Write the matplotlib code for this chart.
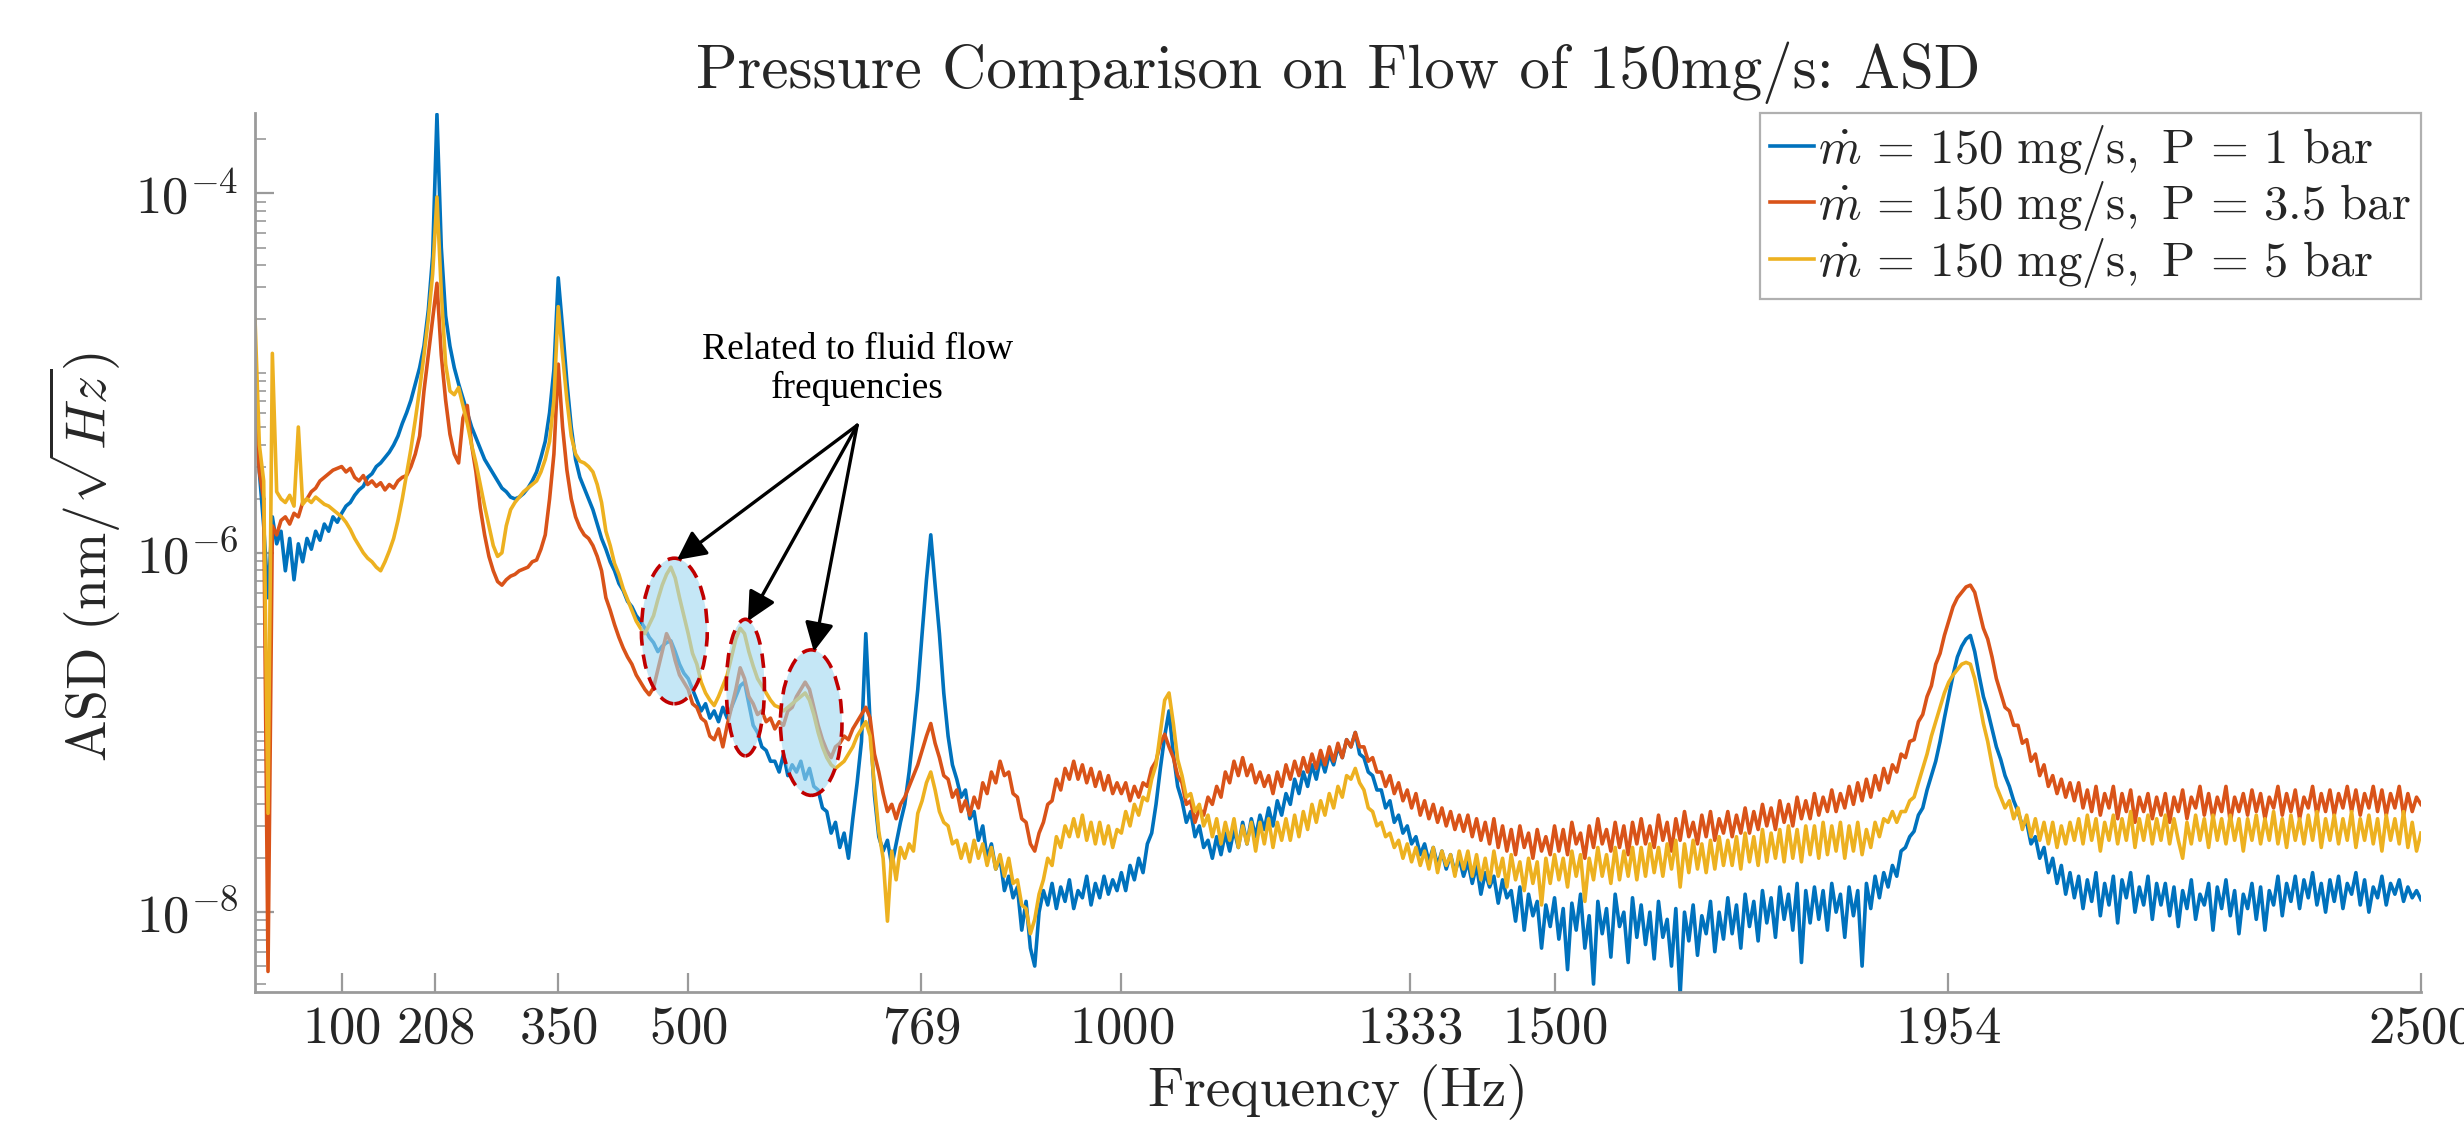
import numpy as np
import matplotlib
matplotlib.use('Agg')
import matplotlib.pyplot as plt
from matplotlib.patches import Ellipse
from matplotlib.ticker import LogLocator, NullFormatter

plt.rcParams['mathtext.fontset'] = 'cm'
plt.rcParams['font.family'] = ['DejaVu Serif']

# frequency grid (Hz), one value every 5 Hz
freq = np.arange(0, 2501, 5)

# log10 of ASD (nm/sqrt(Hz)), 20 values = 100 Hz per row
blue_log = [
    -5.10, -5.55, -5.85, -6.25, -5.80, -5.95, -5.88, -6.10, -5.92, -6.15, -5.95, -6.05, -5.92, -5.98, -5.88, -5.93, -5.84, -5.88, -5.80, -5.83,
    -5.78, -5.74, -5.72, -5.68, -5.65, -5.63, -5.58, -5.56, -5.52, -5.50, -5.47, -5.44, -5.40, -5.35, -5.28, -5.22, -5.15, -5.06, -4.97, -4.85,
    -4.65, -4.35, -3.56, -4.30, -4.68, -4.85, -4.97, -5.06, -5.14, -5.22, -5.30, -5.36, -5.42, -5.48, -5.52, -5.56, -5.60, -5.64, -5.66, -5.69,
    -5.70, -5.69, -5.67, -5.64, -5.60, -5.55, -5.47, -5.38, -5.22, -4.98, -4.47, -4.75, -5.05, -5.30, -5.48, -5.58, -5.64, -5.70, -5.76, -5.84,
    -5.92, -5.98, -6.05, -6.10, -6.17, -6.21, -6.27, -6.30, -6.35, -6.38, -6.42, -6.47, -6.50, -6.55, -6.52, -6.50, -6.49, -6.55, -6.62, -6.67,
    -6.70, -6.76, -6.82, -6.88, -6.84, -6.92, -6.88, -6.94, -6.86, -6.92, -6.86, -6.80, -6.74, -6.72, -6.84, -6.96, -7.00, -7.08, -7.10, -7.16,
    -7.16, -7.22, -7.12, -7.24, -7.18, -7.22, -7.16, -7.26, -7.20, -7.30, -7.32, -7.42, -7.44, -7.56, -7.50, -7.64, -7.56, -7.70, -7.48, -7.28,
    -7.05, -6.45, -6.95, -7.35, -7.58, -7.66, -7.60, -7.74, -7.62, -7.50, -7.40, -7.22, -7.00, -6.76, -6.45, -6.15, -5.90, -6.18, -6.45, -6.78,
    -7.02, -7.18, -7.26, -7.36, -7.32, -7.48, -7.44, -7.60, -7.52, -7.70, -7.62, -7.76, -7.70, -7.88, -7.80, -7.92, -7.86, -8.10, -7.94, -8.20,
    -8.30, -8.00, -7.88, -7.96, -7.84, -7.98, -7.86, -7.94, -7.82, -7.98, -7.88, -7.92, -7.80, -7.96, -7.84, -7.92, -7.80, -7.90, -7.82, -7.88,
    -7.78, -7.88, -7.74, -7.82, -7.70, -7.78, -7.62, -7.56, -7.40, -7.20, -7.02, -6.88, -7.12, -7.30, -7.38, -7.50, -7.44, -7.58, -7.52, -7.64,
    -7.60, -7.70, -7.58, -7.68, -7.56, -7.66, -7.54, -7.64, -7.50, -7.62, -7.48, -7.58, -7.46, -7.54, -7.42, -7.52, -7.38, -7.46, -7.34, -7.40,
    -7.26, -7.34, -7.22, -7.30, -7.18, -7.26, -7.14, -7.22, -7.12, -7.18, -7.08, -7.14, -7.04, -7.08, -7.00, -7.12, -7.14, -7.22, -7.24, -7.32,
    -7.32, -7.42, -7.38, -7.50, -7.46, -7.56, -7.52, -7.62, -7.58, -7.68, -7.62, -7.72, -7.64, -7.74, -7.66, -7.76, -7.68, -7.78, -7.70, -7.80,
    -7.72, -7.84, -7.74, -7.90, -7.78, -7.86, -7.80, -7.95, -7.82, -7.92, -7.88, -8.05, -7.86, -8.10, -7.90, -8.02, -7.94, -8.20, -7.96, -8.08,
    -7.92, -8.15, -7.98, -8.32, -7.95, -8.10, -7.90, -8.20, -8.02, -8.40, -7.94, -8.12, -7.98, -8.25, -7.90, -8.08, -8.00, -8.28, -7.92, -8.14,
    -7.96, -8.18, -8.00, -8.26, -7.94, -8.14, -8.04, -8.30, -7.98, -8.46, -8.00, -8.16, -7.96, -8.24, -8.02, -8.12, -7.94, -8.22, -8.00, -8.15,
    -7.92, -8.12, -7.96, -8.20, -7.90, -8.08, -7.94, -8.16, -7.88, -8.06, -7.92, -8.14, -7.86, -8.04, -7.90, -8.10, -7.84, -8.28, -7.88, -8.06,
    -7.86, -8.04, -7.88, -8.10, -7.84, -8.00, -7.90, -8.14, -7.86, -8.02, -7.88, -8.30, -7.84, -7.98, -7.80, -7.92, -7.78, -7.86, -7.74, -7.80,
    -7.66, -7.64, -7.58, -7.55, -7.46, -7.42, -7.32, -7.24, -7.16, -7.05, -6.92, -6.80, -6.68, -6.58, -6.52, -6.48, -6.46, -6.55, -6.68, -6.80,
    -6.88, -6.98, -7.08, -7.15, -7.24, -7.30, -7.38, -7.44, -7.52, -7.50, -7.62, -7.58, -7.70, -7.64, -7.78, -7.70, -7.84, -7.74, -7.90, -7.78,
    -7.92, -7.80, -7.98, -7.82, -7.94, -7.78, -8.02, -7.84, -7.96, -7.80, -8.06, -7.82, -7.92, -7.78, -8.00, -7.86, -7.96, -7.80, -8.04, -7.84,
    -7.96, -7.84, -8.02, -7.86, -8.08, -7.88, -7.98, -7.82, -8.04, -7.90, -7.96, -7.84, -8.10, -7.86, -7.98, -7.82, -8.02, -7.88, -8.12, -7.90,
    -7.98, -7.84, -8.04, -7.86, -8.10, -7.88, -7.96, -7.80, -8.02, -7.84, -7.94, -7.80, -7.98, -7.82, -7.92, -7.78, -7.96, -7.84, -8.00, -7.82,
    -7.94, -7.80, -7.98, -7.84, -7.90, -7.78, -7.96, -7.82, -8.00, -7.86, -7.92, -7.80, -7.96, -7.84, -7.90, -7.82, -7.94, -7.86, -7.92, -7.88,
    -7.93,
]

orange_log = [
    -5.15, -5.55, -5.70, -8.33, -5.85, -5.90, -5.82, -5.80, -5.84, -5.78, -5.80, -5.72, -5.70, -5.66, -5.64, -5.60, -5.58, -5.56, -5.54, -5.53,
    -5.52, -5.55, -5.53, -5.58, -5.60, -5.57, -5.62, -5.60, -5.63, -5.61, -5.65, -5.62, -5.64, -5.60, -5.58, -5.57, -5.52, -5.45, -5.35, -5.10,
    -4.90, -4.70, -4.50, -4.90, -5.15, -5.34, -5.45, -5.50, -5.25, -5.18, -5.40, -5.55, -5.75, -5.90, -6.02, -6.10, -6.16, -6.18, -6.15, -6.13,
    -6.12, -6.10, -6.09, -6.08, -6.05, -6.04, -5.98, -5.90, -5.70, -5.45, -4.95, -5.30, -5.54, -5.70, -5.80, -5.86, -5.90, -5.92, -5.96, -6.02,
    -6.10, -6.25, -6.32, -6.40, -6.47, -6.53, -6.58, -6.62, -6.68, -6.72, -6.76, -6.79, -6.75, -6.65, -6.55, -6.45, -6.50, -6.60, -6.68, -6.72,
    -6.76, -6.84, -6.86, -6.92, -6.94, -7.02, -7.04, -6.98, -7.08, -6.96, -6.86, -6.76, -6.64, -6.70, -6.80, -6.84, -6.90, -6.88, -6.94, -6.92,
    -6.98, -6.94, -6.96, -6.88, -6.86, -6.80, -6.76, -6.72, -6.76, -6.86, -6.96, -7.04, -7.10, -7.14, -7.08, -7.06, -7.02, -7.04, -6.98, -6.94,
    -6.90, -6.86, -6.92, -7.12, -7.22, -7.34, -7.44, -7.40, -7.48, -7.40, -7.36, -7.30, -7.24, -7.18, -7.10, -7.02, -6.95, -7.06, -7.14, -7.24,
    -7.26, -7.36, -7.32, -7.44, -7.38, -7.46, -7.36, -7.42, -7.28, -7.34, -7.22, -7.28, -7.16, -7.24, -7.22, -7.34, -7.36, -7.48, -7.50, -7.62,
    -7.66, -7.56, -7.50, -7.40, -7.38, -7.26, -7.32, -7.20, -7.26, -7.16, -7.26, -7.18, -7.28, -7.20, -7.30, -7.22, -7.32, -7.24, -7.34, -7.28,
    -7.34, -7.28, -7.38, -7.30, -7.36, -7.28, -7.30, -7.20, -7.16, -7.06, -7.01, -7.08, -7.14, -7.24, -7.28, -7.40, -7.38, -7.50, -7.42, -7.46,
    -7.36, -7.40, -7.30, -7.36, -7.22, -7.28, -7.16, -7.24, -7.14, -7.24, -7.18, -7.28, -7.22, -7.30, -7.24, -7.34, -7.22, -7.30, -7.18, -7.26,
    -7.16, -7.24, -7.14, -7.22, -7.12, -7.20, -7.10, -7.18, -7.08, -7.16, -7.06, -7.14, -7.04, -7.08, -7.00, -7.08, -7.08, -7.16, -7.14, -7.22,
    -7.22, -7.30, -7.24, -7.34, -7.28, -7.38, -7.32, -7.42, -7.34, -7.46, -7.38, -7.48, -7.40, -7.50, -7.42, -7.52, -7.44, -7.54, -7.46, -7.55,
    -7.46, -7.58, -7.48, -7.60, -7.50, -7.62, -7.48, -7.64, -7.52, -7.66, -7.54, -7.68, -7.52, -7.64, -7.56, -7.70, -7.54, -7.66, -7.58, -7.68,
    -7.52, -7.66, -7.54, -7.68, -7.50, -7.62, -7.56, -7.70, -7.52, -7.64, -7.48, -7.62, -7.54, -7.66, -7.50, -7.64, -7.52, -7.68, -7.50, -7.62,
    -7.48, -7.62, -7.52, -7.64, -7.46, -7.60, -7.50, -7.66, -7.48, -7.60, -7.44, -7.58, -7.50, -7.62, -7.46, -7.58, -7.44, -7.60, -7.48, -7.56,
    -7.44, -7.58, -7.46, -7.56, -7.42, -7.56, -7.44, -7.54, -7.40, -7.52, -7.42, -7.54, -7.38, -7.50, -7.40, -7.52, -7.36, -7.48, -7.38, -7.48,
    -7.34, -7.46, -7.36, -7.44, -7.32, -7.44, -7.34, -7.42, -7.30, -7.40, -7.28, -7.38, -7.26, -7.36, -7.24, -7.32, -7.20, -7.28, -7.18, -7.22,
    -7.12, -7.14, -7.05, -7.04, -6.94, -6.90, -6.80, -6.74, -6.62, -6.56, -6.46, -6.38, -6.30, -6.25, -6.22, -6.19, -6.18, -6.22, -6.32, -6.42,
    -6.48, -6.58, -6.70, -6.78, -6.86, -6.88, -6.96, -6.96, -7.06, -7.04, -7.16, -7.12, -7.24, -7.18, -7.30, -7.24, -7.34, -7.26, -7.36, -7.28,
    -7.38, -7.28, -7.42, -7.32, -7.44, -7.30, -7.46, -7.34, -7.42, -7.30, -7.48, -7.34, -7.44, -7.32, -7.50, -7.36, -7.44, -7.34, -7.48, -7.36,
    -7.46, -7.34, -7.50, -7.36, -7.44, -7.32, -7.48, -7.36, -7.42, -7.30, -7.46, -7.34, -7.48, -7.36, -7.44, -7.30, -7.50, -7.36, -7.44, -7.34,
    -7.46, -7.32, -7.44, -7.34, -7.48, -7.36, -7.42, -7.30, -7.46, -7.34, -7.44, -7.32, -7.48, -7.36, -7.42, -7.30, -7.46, -7.34, -7.44, -7.32,
    -7.46, -7.34, -7.42, -7.30, -7.44, -7.32, -7.46, -7.34, -7.42, -7.30, -7.44, -7.32, -7.46, -7.34, -7.42, -7.30, -7.46, -7.34, -7.44, -7.36,
    -7.40,
]

yellow_log = [
    -4.70, -5.40, -5.60, -7.45, -4.89, -5.66, -5.70, -5.72, -5.68, -5.74, -5.30, -5.73, -5.70, -5.72, -5.69, -5.71, -5.73, -5.74, -5.76, -5.78,
    -5.80, -5.83, -5.87, -5.92, -5.96, -6.00, -6.03, -6.05, -6.08, -6.10, -6.05, -5.99, -5.92, -5.82, -5.70, -5.56, -5.42, -5.26, -5.09, -4.90,
    -4.70, -4.45, -4.02, -4.55, -4.95, -5.10, -5.12, -5.08, -5.18, -5.28, -5.40, -5.50, -5.62, -5.74, -5.85, -5.96, -6.02, -6.00, -5.85, -5.76,
    -5.72, -5.69, -5.66, -5.64, -5.62, -5.60, -5.55, -5.48, -5.38, -5.15, -4.63, -4.90, -5.15, -5.35, -5.45, -5.49, -5.50, -5.52, -5.55, -5.62,
    -5.72, -5.88, -5.96, -6.06, -6.12, -6.20, -6.26, -6.32, -6.38, -6.42, -6.45, -6.40, -6.35, -6.26, -6.18, -6.12, -6.08, -6.14, -6.25, -6.35,
    -6.45, -6.56, -6.62, -6.72, -6.78, -6.82, -6.85, -6.80, -6.74, -6.68, -6.58, -6.48, -6.42, -6.45, -6.55, -6.63, -6.70, -6.74, -6.78, -6.82,
    -6.85, -6.86, -6.88, -6.86, -6.84, -6.82, -6.80, -6.78, -6.82, -6.90, -7.00, -7.08, -7.14, -7.18, -7.20, -7.18, -7.16, -7.12, -7.08, -7.02,
    -6.98, -6.94, -7.02, -7.30, -7.55, -7.70, -8.05, -7.66, -7.82, -7.64, -7.70, -7.62, -7.66, -7.45, -7.38, -7.28, -7.22, -7.32, -7.44, -7.50,
    -7.52, -7.62, -7.60, -7.70, -7.62, -7.72, -7.60, -7.70, -7.62, -7.74, -7.64, -7.76, -7.68, -7.80, -7.70, -7.84, -7.82, -7.96, -7.98, -8.12,
    -8.04, -7.90, -7.82, -7.70, -7.74, -7.58, -7.64, -7.52, -7.58, -7.48, -7.58, -7.46, -7.60, -7.50, -7.62, -7.50, -7.62, -7.52, -7.64, -7.54,
    -7.56, -7.44, -7.52, -7.40, -7.46, -7.36, -7.38, -7.26, -7.18, -7.00, -6.82, -6.78, -6.95, -7.15, -7.24, -7.36, -7.34, -7.44, -7.40, -7.52,
    -7.46, -7.58, -7.48, -7.62, -7.50, -7.60, -7.48, -7.64, -7.52, -7.62, -7.50, -7.66, -7.50, -7.62, -7.48, -7.64, -7.50, -7.60, -7.48, -7.60,
    -7.46, -7.58, -7.44, -7.54, -7.40, -7.50, -7.38, -7.46, -7.34, -7.42, -7.30, -7.36, -7.24, -7.26, -7.20, -7.28, -7.32, -7.42, -7.44, -7.52,
    -7.50, -7.58, -7.56, -7.64, -7.60, -7.70, -7.62, -7.72, -7.64, -7.74, -7.66, -7.76, -7.64, -7.78, -7.66, -7.74, -7.68, -7.80, -7.66, -7.76,
    -7.66, -7.80, -7.68, -7.82, -7.70, -7.84, -7.66, -7.80, -7.70, -7.86, -7.68, -7.82, -7.72, -7.88, -7.70, -7.84, -7.72, -7.96, -7.70, -7.84,
    -7.68, -7.82, -7.70, -7.86, -7.66, -7.80, -7.68, -7.94, -7.70, -7.82, -7.64, -7.80, -7.68, -7.84, -7.64, -7.82, -7.66, -7.80, -7.64, -7.82,
    -7.64, -7.80, -7.62, -7.78, -7.64, -7.80, -7.62, -7.76, -7.60, -7.86, -7.62, -7.78, -7.60, -7.76, -7.62, -7.78, -7.60, -7.76, -7.58, -7.74,
    -7.60, -7.74, -7.58, -7.76, -7.56, -7.72, -7.58, -7.74, -7.54, -7.72, -7.56, -7.70, -7.54, -7.72, -7.52, -7.70, -7.54, -7.72, -7.52, -7.68,
    -7.52, -7.70, -7.50, -7.68, -7.52, -7.66, -7.50, -7.70, -7.52, -7.66, -7.50, -7.68, -7.54, -7.64, -7.50, -7.58, -7.48, -7.50, -7.44, -7.50,
    -7.44, -7.44, -7.38, -7.36, -7.28, -7.20, -7.12, -7.02, -6.94, -6.86, -6.78, -6.72, -6.68, -6.65, -6.62, -6.61, -6.62, -6.70, -6.82, -6.95,
    -7.05, -7.18, -7.30, -7.36, -7.42, -7.38, -7.48, -7.42, -7.54, -7.46, -7.58, -7.48, -7.60, -7.50, -7.62, -7.50, -7.64, -7.52, -7.62, -7.50,
    -7.60, -7.48, -7.62, -7.46, -7.60, -7.48, -7.66, -7.50, -7.60, -7.46, -7.62, -7.48, -7.60, -7.44, -7.64, -7.48, -7.60, -7.46, -7.62, -7.48,
    -7.60, -7.46, -7.62, -7.48, -7.60, -7.70, -7.50, -7.62, -7.46, -7.60, -7.48, -7.64, -7.46, -7.60, -7.48, -7.62, -7.46, -7.60, -7.48, -7.66,
    -7.48, -7.60, -7.46, -7.62, -7.48, -7.60, -7.44, -7.62, -7.48, -7.64, -7.46, -7.60, -7.48, -7.62, -7.46, -7.60, -7.44, -7.64, -7.48, -7.60,
    -7.46, -7.62, -7.48, -7.60, -7.44, -7.64, -7.48, -7.60, -7.46, -7.62, -7.48, -7.66, -7.46, -7.60, -7.48, -7.62, -7.44, -7.64, -7.50, -7.66,
    -7.56,
]

labels = [r'$\dot{m}\,=\,150\ \mathrm{mg/s,\ P}\,=\,1\ \mathrm{bar}$',
          r'$\dot{m}\,=\,150\ \mathrm{mg/s,\ P}\,=\,3.5\ \mathrm{bar}$',
          r'$\dot{m}\,=\,150\ \mathrm{mg/s,\ P}\,=\,5\ \mathrm{bar}$']
colors = ['#0072BD', '#D95319', '#EDB120']

xticks = [100, 208, 350, 500, 769, 1000, 1333, 1500, 1954, 2500]

# highlighted fluid-flow bumps: centre Hz, width Hz, log10 top, log10 bottom
bump_f = [484, 566, 642]
bump_w = [76, 44, 71]
bump_top = [-6.03, -6.37, -6.54]
bump_bot = [-6.84, -7.13, -7.35]

fig = plt.figure(figsize=(12.32, 5.655), dpi=200)
ax = fig.add_axes([0.1035, 0.123, 0.879, 0.777])

for vals, c, lab in zip([blue_log, orange_log, yellow_log], colors, labels):
    ax.plot(freq, 10.0 ** np.array(vals), color=c, lw=1.3, label=lab)

ax.set_yscale('log')
ax.set_xlim(0, 2500)
ylo, yhi = 3.6e-9, 2.8e-4
ax.set_ylim(ylo, yhi)

ax.set_xticks(xticks)
ax.set_xticklabels(['$%d$' % t for t in xticks])
ax.set_yticks([1e-8, 1e-6, 1e-4])
ax.set_yticklabels([r'$10^{-8}$', r'$10^{-6}$', r'$10^{-4}$'])
ax.yaxis.set_minor_locator(LogLocator(base=10, subs=np.arange(1, 10), numticks=50))
ax.yaxis.set_minor_formatter(NullFormatter())
ax.tick_params(axis='both', which='major', direction='in', length=7, width=0.8,
               color='#9a9a9a', labelsize=19, labelcolor='#262626')
ax.tick_params(axis='x', which='major', pad=4)
ax.tick_params(axis='y', which='major', pad=6)
ax.tick_params(axis='y', which='minor', direction='in', length=4, width=0.6, color='#9a9a9a')
for s in ['top', 'right']:
    ax.spines[s].set_visible(False)
for s in ['left', 'bottom']:
    ax.spines[s].set_color('#9a9a9a')
    ax.spines[s].set_linewidth(1.0)

ax.set_title('Pressure Comparison on Flow of 150mg/s: ASD', fontfamily='cmr10',
             fontsize=22, color='#262626', pad=9)
ax.set_xlabel('Frequency (Hz)', fontfamily='cmr10', fontsize=20, color='#262626')
ax.xaxis.set_label_coords(0.5, -0.082)
ax.set_ylabel(r'$\mathrm{ASD}\ (\mathrm{nm}/\sqrt{Hz})$', fontsize=20, color='#262626')
ax.yaxis.set_label_coords(-0.061, 0.495)

leg = ax.legend(loc='upper right', bbox_to_anchor=(1.0, 1.0), borderaxespad=0,
                fontsize=17.5, handlelength=0.9, handletextpad=0.1, borderpad=0.2,
                labelspacing=0.05, fancybox=False, framealpha=1)
leg.get_frame().set_edgecolor('#b0b0b0')
leg.get_frame().set_linewidth(0.8)
for t in leg.get_texts():
    t.set_color('#262626')

# ellipses drawn in axes fraction so they stay round on the log scale
lrange = np.log10(yhi) - np.log10(ylo)
for f0, w, top, bot in zip(bump_f, bump_w, bump_top, bump_bot):
    cx = f0 / 2500.0
    cy = ((top + bot) / 2 - np.log10(ylo)) / lrange
    e = Ellipse((cx, cy), w / 2500.0, (top - bot) / lrange, transform=ax.transAxes,
                facecolor='#9fd8f0', alpha=0.6, edgecolor='none', zorder=5)
    ax.add_patch(e)
    e2 = Ellipse((cx, cy), w / 2500.0, (top - bot) / lrange, transform=ax.transAxes,
                 facecolor='none', edgecolor='#c00000', lw=1.3, linestyle=(0, (4, 2.5)), zorder=6)
    ax.add_patch(e2)

ax.text(695, 10 ** -4.98, 'Related to fluid flow\nfrequencies', ha='center', va='center',
        fontsize=13.5, family='Liberation Serif', linespacing=1.15, zorder=7)
for f0, top in zip(bump_f, bump_top):
    ax.annotate('', xy=(f0 + 3, 10 ** (top - 0.01)), xytext=(695, 10 ** -5.29),
                arrowprops=dict(arrowstyle='-|>', color='black', lw=1.2, mutation_scale=22,
                                shrinkA=0, shrinkB=0), zorder=7)

fig.savefig('out.png', dpi=200)
